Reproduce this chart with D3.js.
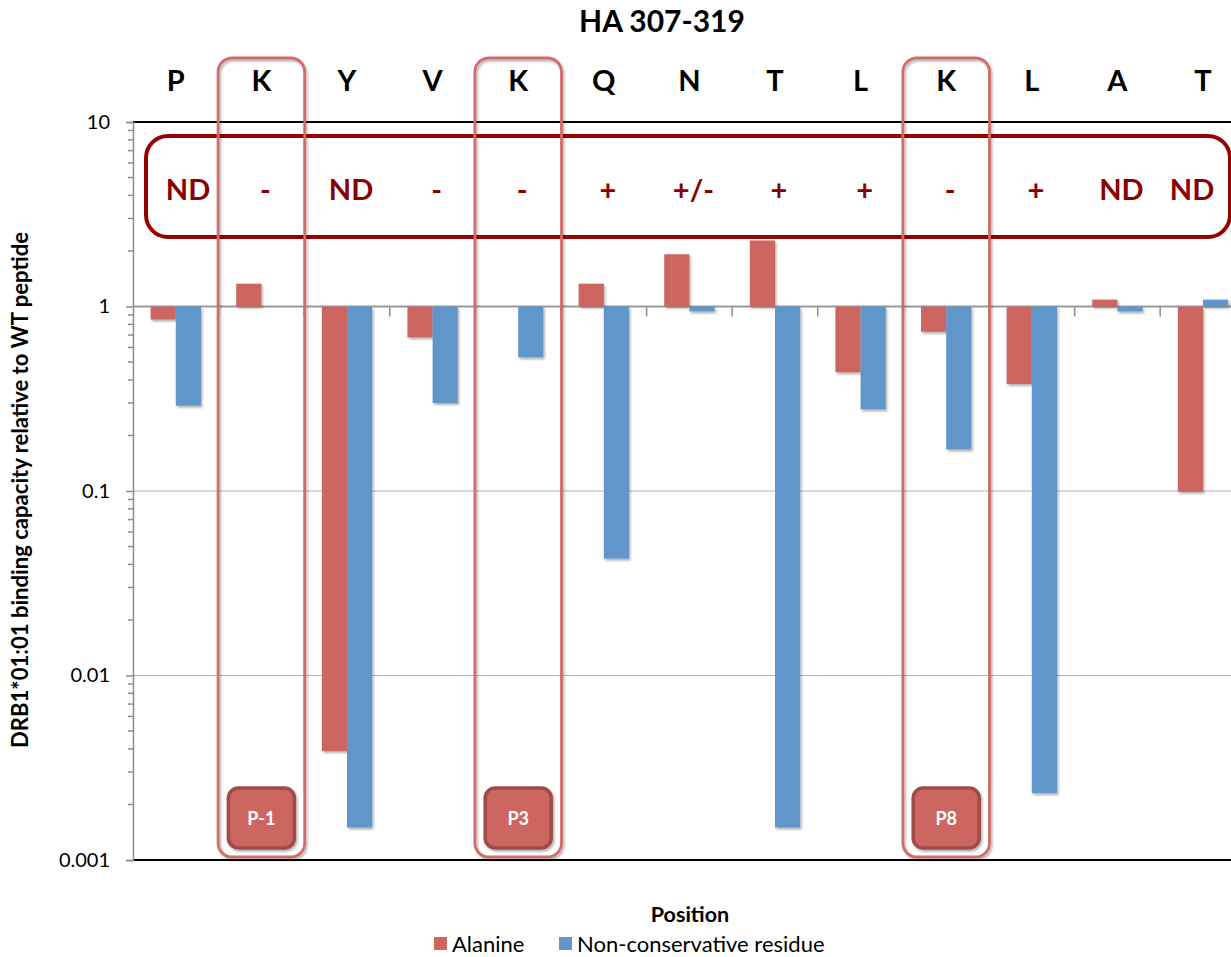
<!DOCTYPE html>
<html>
<head>
<meta charset="utf-8">
<script src="https://cdn.jsdelivr.net/npm/d3@7"></script>
<style>
  html, body { margin: 0; padding: 0; background: #fff; }
  svg { display: block; font-family: Lato, "Open Sans", sans-serif; }
</style>
</head>
<body>
<svg id="chart" width="1231" height="957"></svg>
<script>
// HA 307-319 peptide, one residue per position
const residues = ["P", "K", "Y", "V", "K", "Q", "N", "T", "L", "K", "L", "A", "T"];

// Binding relative to the wild-type peptide (null = not measured)
const alanine = [0.85, 1.33, 0.0039, 0.68, null, 1.33, 1.92, 2.28, 0.44, 0.73, 0.38, 1.09, 0.099];
const nonConservative = [0.29, null, 0.0015, 0.30, 0.53, 0.043, 0.94, 0.0015, 0.277, 0.168, 0.0023, 0.94, 1.09];

// T-cell response call per position
const responseCalls = ["ND", "-", "ND", "-", "-", "+", "+/-", "+", "+", "-", "+", "ND", "ND"];

// MHC pocket anchors: residue index and label
const pocketIndex = [1, 4, 9];
const pocketLabels = ["P-1", "P3", "P8"];

const yTickValues = [0.001, 0.01, 0.1, 1, 10];
const seriesNames = ["Alanine", "Non-conservative residue"];

const RED = "#CD6660", BLUE = "#6196C9", DARK = "#8B0000";

const svg = d3.select("#chart");
const plot = { left: 133, top: 122, bottom: 860, bandW: 85.6 };
plot.right = plot.left + residues.length * plot.bandW;

const x = d3.scaleBand().domain(d3.range(residues.length))
  .range([plot.left, plot.right]).paddingInner(0).paddingOuter(0);
const y = d3.scaleLog().domain([0.001, 10]).range([plot.bottom, plot.top]);

const barW = x.bandwidth() / 3.4;
const groupOff = (x.bandwidth() - 2 * barW) / 2;

// Scale a text's font size so it spans the given width
function fitWidth(sel, width) {
  const node = sel.node();
  const fs = parseFloat(sel.attr("font-size"));
  const len = node.getComputedTextLength();
  if (len > 0) sel.attr("font-size", (fs * width / len).toFixed(2));
  return sel;
}

const defs = svg.append("defs");
const sh = defs.append("filter").attr("id", "shadow")
  .attr("x", "-20%").attr("y", "-20%").attr("width", "160%").attr("height", "160%");
sh.append("feDropShadow").attr("dx", 1.5).attr("dy", 2).attr("stdDeviation", 1.3)
  .attr("flood-color", "#000").attr("flood-opacity", 0.3);

// Gridlines at the inner decades
svg.append("g").selectAll("line").data([0.01, 0.1]).join("line")
  .attr("x1", plot.left).attr("x2", plot.right)
  .attr("y1", d => y(d)).attr("y2", d => y(d))
  .attr("stroke", "#b3b3b3").attr("stroke-width", 1.2);

// Frame lines at the top and bottom decades
svg.append("g").selectAll("line").data([10, 0.001]).join("line")
  .attr("x1", plot.left).attr("x2", plot.right)
  .attr("y1", d => y(d)).attr("y2", d => y(d))
  .attr("stroke", "#000").attr("stroke-width", 2);

// Y axis with minor log ticks
const yAxis = d3.axisLeft(y).tickValues(yTickValues).tickSize(7).tickPadding(16)
  .tickFormat(d => String(d));
const yG = svg.append("g").attr("transform", `translate(${plot.left},0)`).call(yAxis);
yG.select(".domain").attr("stroke", "#8c8c8c").attr("stroke-width", 1.5);
yG.selectAll(".tick line").attr("stroke", "#8c8c8c").attr("stroke-width", 1.5);
yG.selectAll(".tick text").attr("font-family", "Lato, sans-serif").attr("font-size", 20).attr("fill", "#000");
const minor = [];
for (let e = -3; e < 1; e++) for (let m = 2; m <= 9; m++) minor.push(m * Math.pow(10, e));
yG.append("g").selectAll("line").data(minor).join("line")
  .attr("x1", -5).attr("x2", 0).attr("y1", d => y(d)).attr("y2", d => y(d))
  .attr("stroke", "#8c8c8c").attr("stroke-width", 1.5);

// Category axis crossing at 1, with ticks between positions
const xAxisY = y(1);
svg.append("g").selectAll("line").data(d3.range(1, residues.length)).join("line")
  .attr("x1", d => x(d)).attr("x2", d => x(d))
  .attr("y1", xAxisY).attr("y2", xAxisY + 10)
  .attr("stroke", "#8c8c8c").attr("stroke-width", 1.5);
svg.append("line").attr("x1", plot.left).attr("x2", plot.right)
  .attr("y1", xAxisY).attr("y2", xAxisY)
  .attr("stroke", "#999").attr("stroke-width", 2);

// Bars grow from 1 toward their value
const series = [
  { values: alanine, color: RED, off: 0 },
  { values: nonConservative, color: BLUE, off: 1 }
];
series.forEach(s => {
  const pts = s.values.map((v, i) => ({ v, i })).filter(d => d.v != null);
  svg.append("g").attr("filter", "url(#shadow)").selectAll("rect").data(pts).join("rect")
    .attr("x", d => x(d.i) + groupOff + s.off * barW)
    .attr("width", barW)
    .attr("y", d => Math.min(y(d.v), y(1)))
    .attr("height", d => Math.abs(y(d.v) - y(1)))
    .attr("fill", s.color);
});

// Response call banner
const banner = { x0: 146, x1: 1230, y0: 136, y1: 237 };
svg.append("rect")
  .attr("x", banner.x0).attr("y", banner.y0)
  .attr("width", banner.x1 - banner.x0).attr("height", banner.y1 - banner.y0)
  .attr("rx", 22).attr("fill", "none").attr("stroke", "#990000").attr("stroke-width", 4);
svg.append("g").selectAll("text").data(responseCalls).join("text")
  .attr("x", (d, i) => Math.max(banner.x0 + 42, Math.min(banner.x1 - 38, x(i) + x.bandwidth() / 2 + 4)))
  .attr("y", 200)
  .attr("text-anchor", "middle")
  .attr("font-family", "Lato, sans-serif").attr("font-weight", 700).attr("font-size", 29)
  .attr("fill", DARK)
  .text(d => d);

// Pocket anchor outlines and tags
const pockets = pocketIndex.map((idx, k) => ({ idx, label: pocketLabels[k] }));
const pg = svg.append("g");
pg.selectAll("rect.outline").data(pockets).join("rect").attr("class", "outline")
  .attr("x", d => x(d.idx) - 0.5).attr("width", x.bandwidth() + 1)
  .attr("y", 58).attr("height", 799).attr("rx", 14)
  .attr("fill", "none").attr("stroke", "#D06D67").attr("stroke-width", 2.8)
  .attr("filter", "url(#shadow)");
const tag = pg.selectAll("g.tag").data(pockets).join("g").attr("class", "tag")
  .attr("transform", d => `translate(${x(d.idx) + x.bandwidth() / 2},818)`);
tag.append("rect").attr("x", -33).attr("y", -30).attr("width", 66).attr("height", 60)
  .attr("rx", 10).attr("fill", RED).attr("stroke", "#A04B46").attr("stroke-width", 3.5)
  .attr("filter", "url(#shadow)");
tag.append("text").attr("text-anchor", "middle").attr("y", 7)
  .attr("font-family", "Lato, sans-serif").attr("font-weight", 700).attr("font-size", 18)
  .attr("fill", "#fff").text(d => d.label);

// Residue letters above the plot
svg.append("g").selectAll("text").data(residues).join("text")
  .attr("x", (d, i) => x(i) + x.bandwidth() / 2).attr("y", 91)
  .attr("text-anchor", "middle")
  .attr("font-family", "Lato, sans-serif").attr("font-weight", 700).attr("font-size", 29)
  .text(d => d);

// Title
svg.append("text").attr("x", 662).attr("y", 32).attr("text-anchor", "middle")
  .attr("font-family", "Lato, sans-serif").attr("font-weight", 700).attr("font-size", 30)
  .text("HA 307-319");

// Axis titles
fitWidth(svg.append("text").attr("transform", "translate(28,490) rotate(-90)")
  .attr("text-anchor", "middle")
  .attr("font-family", "Lato, sans-serif").attr("font-weight", 700).attr("font-size", 18)
  .text("DRB1*01:01 binding capacity relative to WT peptide"), 516);
svg.append("text").attr("x", 690).attr("y", 922).attr("text-anchor", "middle")
  .attr("font-family", "Lato, sans-serif").attr("font-weight", 700).attr("font-size", 21.5)
  .text("Position");

// Legend
const legendX = [434, 559];
const lg = svg.append("g").selectAll("g").data(seriesNames).join("g")
  .attr("transform", (d, i) => `translate(${legendX[i]},937)`);
lg.append("rect").attr("width", 13).attr("height", 13).attr("fill", (d, i) => i ? BLUE : RED);
lg.append("text").attr("x", 18).attr("y", 15)
  .attr("font-family", "Lato, sans-serif").attr("font-size", 22).text(d => d);
</script>
</body>
</html>
